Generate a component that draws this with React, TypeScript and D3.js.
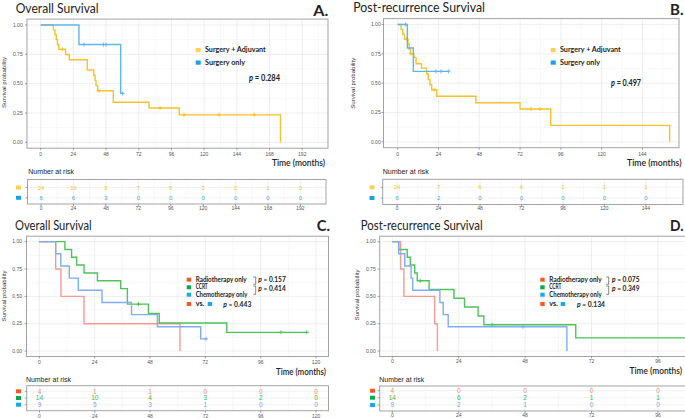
import React from 'react';
import * as d3 from 'd3';

// ---------------- DATA ----------------
const A_TICKS = [0, 24, 48, 72, 96, 120, 144, 168, 192];
const B_TICKS = [0, 24, 48, 72, 96, 120, 144];
const C_TICKS = [0, 24, 48, 72, 96, 120];
const D_TICKS = [0, 24, 48, 72, 96];
const Y_TICKS = [0, 0.25, 0.5, 0.75, 1];
const Y_TICK_LABELS = ['0.00', '0.25', '0.50', '0.75', '1.00'];

// Panel A: Overall survival, Surgery + Adjuvant vs Surgery only
const A_ADJ_TIME = [0, 9.3, 10.5, 11.5, 12.3, 13.3, 18.3, 21, 34.2, 38.9, 39.9, 40.6, 41.8, 53.3, 79.5, 101.7, 176];
const A_ADJ_SURV = [1, 0.958, 0.917, 0.875, 0.833, 0.792, 0.748, 0.704, 0.616, 0.572, 0.528, 0.484, 0.44, 0.342, 0.293, 0.234, 0];
const A_ADJ_CENSOR = [16.1, 42.8, 87.6, 105.2, 130.9, 156.8];
const A_ADJ_END = 176;
const A_ONLY_TIME = [0, 28.1, 58.7];
const A_ONLY_SURV = [1, 0.833, 0.417];
const A_ONLY_CENSOR = [31.8, 46, 47.9, 60.2];
const A_ONLY_END = 60.2;
const A_RISK_ADJ = [24, 16, 9, 7, 5, 3, 2, 1, 0];
const A_RISK_ONLY = [6, 6, 3, 0, 0, 0, 0, 0, 0];

// Panel B: Post-recurrence survival
const B_ADJ_TIME = [0, 2, 3, 4, 6, 6.8, 7.5, 9.5, 10.8, 14, 17, 18, 19, 20, 22.9, 46, 72, 90, 160];
const B_ADJ_SURV = [1, 0.958, 0.917, 0.875, 0.831, 0.788, 0.75, 0.72, 0.665, 0.628, 0.578, 0.53, 0.487, 0.444, 0.388, 0.333, 0.28, 0.14, 0];
const B_ADJ_CENSOR = [5.3, 7.8, 21.4, 78.4, 83.7];
const B_ADJ_END = 160;
const B_ONLY_TIME = [0, 5.7, 9.2];
const B_ONLY_SURV = [1, 0.8, 0.6];
const B_ONLY_CENSOR = [4.7, 22.5, 25.5, 29.8];
const B_ONLY_END = 29.8;
const B_RISK_ADJ = [24, 7, 6, 6, 1, 1, 1];
const B_RISK_ONLY = [6, 2, 0, 0, 0, 0, 0];

// Panel C: Overall survival by adjuvant type
const C_RT_TIME = [0, 7.1, 9.4, 19.4, 61];
const C_RT_SURV = [1, 0.75, 0.5, 0.25, 0];
const C_RT_CENSOR: number[] = [];
const C_RT_END = 61;
const C_CCRT_TIME = [0, 11.1, 14, 16.2, 19.4, 25.2, 35.3, 38.2, 47.3, 52, 81.3];
const C_CCRT_SURV = [1, 0.929, 0.857, 0.786, 0.714, 0.643, 0.571, 0.429, 0.343, 0.257, 0.171];
const C_CCRT_CENSOR = [43, 104.8, 116];
const C_CCRT_END = 116;
const C_CHEMO_TIME = [0, 7.1, 9.3, 13, 16.9, 27.2, 40, 51.2, 70];
const C_CHEMO_SURV = [1, 0.889, 0.778, 0.667, 0.556, 0.444, 0.333, 0.222, 0.111];
const C_CHEMO_CENSOR = [72.3];
const C_CHEMO_END = 72.3;
const C_RISK_RT = [4, 1, 1, 0, 0, 0];
const C_RISK_CCRT = [14, 10, 4, 3, 2, 0];
const C_RISK_CHEMO = [9, 5, 3, 1, 0, 0];

// Panel D: Post-recurrence survival by adjuvant type
const D_RT_TIME = [0, 3, 4.2, 15.3, 16.3];
const D_RT_SURV = [1, 0.75, 0.5, 0.25, 0];
const D_RT_CENSOR: number[] = [];
const D_RT_END = 16.3;
const D_CCRT_TIME = [0, 2.3, 5.4, 6.5, 8.1, 9, 13.3, 22.3, 26.1, 31, 33.1, 66.3];
const D_CCRT_SURV = [1, 0.929, 0.857, 0.786, 0.714, 0.643, 0.5625, 0.482, 0.402, 0.321, 0.241, 0.12];
const D_CCRT_CENSOR = [10.1, 36.1, 112];
const D_CCRT_END = 112;
const D_CHEMO_TIME = [0, 2.3, 4.5, 6.8, 7.4, 17.2, 18.4, 20.2, 63.1];
const D_CHEMO_SURV = [1, 0.889, 0.778, 0.667, 0.556, 0.444, 0.333, 0.222, 0];
const D_CHEMO_CENSOR = [47.2];
const D_CHEMO_END = 63.1;
const D_RISK_RT = [4, 0, 0, 0, 0];
const D_RISK_CCRT = [14, 6, 2, 1, 1];
const D_RISK_CHEMO = [9, 2, 1, 0, 0];

const LABELS_AB = ['Surgery + Adjuvant', 'Surgery only'];
const LABELS_CD = ['Radiotherapy only', 'CCRT', 'Chemotherapy only'];
const P_A = '0.284';
const P_B = '0.497';
const P_C = ['0.157', '0.414', '0.443'];
const P_D = ['0.075', '0.349', '0.134'];

// ---------------- STYLE ----------------
const FONT_CAL = "Lato, 'Open Sans', 'Noto Sans', sans-serif";
const FONT_AR = "'Liberation Sans', Arial, sans-serif";
const YEL_LINE = '#F5C12C';
const BLU_LINE = '#5DB6EB';
const YEL_SQ = '#FBD155';
const BLU_SQ = '#17A2E6';
const RED_LINE = '#F59A95';
const GRN_LINE = '#4CC45A';
const BLU2_LINE = '#80ACF4';
const RED_SQ = '#FF5722';
const GRN_SQ = '#0DA84B';
const BLU2_SQ = '#19A9F2';
const YEL_TXT = '#F3C537';
const BLU_TXT = '#4BA8E6';
const RED_TXT = '#F38A84';
const GRN_TXT = '#3DBB4C';
const BLU2_TXT = '#7EA6F2';

type Curve = { time: number[]; surv: number[]; end: number; censor: number[]; color: string };

function stepPoints(c: Curve): [number, number][] {
  const pts = c.time.map((t, i) => [t, c.surv[i]] as [number, number]);
  const last = c.time[c.time.length - 1];
  if (c.end > last) pts.push([c.end, c.surv[c.surv.length - 1]]);
  return pts;
}
function survAt(c: Curve, t: number) {
  let s = 1;
  for (let i = 0; i < c.time.length; i++) if (c.time[i] <= t) s = c.surv[i];
  return s;
}

type Cfg = {
  id: string;
  plot: { l: number; r: number; t: number; b: number };
  xDomain: [number, number];
  ticks: number[];
  curves: Curve[];
  title: { text: string; x: number; y: number; w: number; size: number };
  letter: { text: string; x: number; y: number; w: number };
  yTitle: { x: number; y: number };
  yTickRight: number;
  xTickY: number;
  timeLabel: { xEnd: number; y: number; w: number };
  riskTitle: { x: number; y: number; w: number };
  table: { l: number; r: number; t: number; b: number; rows: number[]; tickY: number; sqX: number; size: number };
  risk: number[][];
  riskColors: string[];
  sqColors: string[];
};

function Panel({ cfg }: { cfg: Cfg }) {
  const x = d3.scaleLinear().domain(cfg.xDomain).range([cfg.plot.l, cfg.plot.r]);
  const y = d3.scaleLinear().domain([-0.05, 1.05]).range([cfg.plot.b, cfg.plot.t]);
  const line = d3
    .line<[number, number]>()
    .x((d) => x(d[0]))
    .y((d) => y(d[1]))
    .curve(d3.curveStepAfter);
  const xt = d3.scaleLinear().domain(cfg.xDomain).range([cfg.table.l, cfg.table.r]);
  const minorX = d3.range(12, cfg.xDomain[1], 24);
  const majorX = d3.range(0, cfg.xDomain[1], 24);
  const minorY = [0.125, 0.375, 0.625, 0.875];
  const { plot, table } = cfg;
  const clipId = 'clip-' + cfg.id;
  return (
    <g>
      <defs>
        <clipPath id={clipId}>
          <rect x={plot.l} y={plot.t} width={plot.r - plot.l} height={plot.b - plot.t} />
        </clipPath>
      </defs>
      {/* titles */}
      <text x={cfg.title.x} y={cfg.title.y} fontFamily={FONT_CAL} fontSize={cfg.title.size} fill="#222"
        textLength={cfg.title.w} lengthAdjust="spacingAndGlyphs">{cfg.title.text}</text>
      <text x={cfg.letter.x} y={cfg.letter.y} fontFamily={FONT_CAL} fontWeight={700} fontSize={15} fill="#222"
        textLength={cfg.letter.w} lengthAdjust="spacingAndGlyphs">{cfg.letter.text}</text>
      {/* plot panel */}
      <rect x={plot.l} y={plot.t} width={plot.r - plot.l} height={plot.b - plot.t} fill="#fff" />
      <g clipPath={`url(#${clipId})`}>
        {minorX.map((v) => (
          <line key={'mx' + v} x1={x(v)} x2={x(v)} y1={plot.t} y2={plot.b} stroke="#F2F2F2" strokeWidth={0.6} />
        ))}
        {minorY.map((v) => (
          <line key={'my' + v} x1={plot.l} x2={plot.r} y1={y(v)} y2={y(v)} stroke="#F2F2F2" strokeWidth={0.6} />
        ))}
        {majorX.map((v) => (
          <line key={'Mx' + v} x1={x(v)} x2={x(v)} y1={plot.t} y2={plot.b} stroke="#E6E6E6" strokeWidth={0.7} />
        ))}
        {Y_TICKS.map((v) => (
          <line key={'My' + v} x1={plot.l} x2={plot.r} y1={y(v)} y2={y(v)} stroke="#E6E6E6" strokeWidth={0.7} />
        ))}
        {cfg.curves.map((c, i) => (
          <g key={'c' + i}>
            <path d={line(stepPoints(c)) || ''} fill="none" stroke={c.color} strokeWidth={1.4} />
            {c.censor.map((t, j) => {
              const cx = x(t);
              const cy = y(survAt(c, t));
              return (
                <g key={j} stroke={c.color} strokeWidth={1}>
                  <line x1={cx - 2} x2={cx + 2} y1={cy} y2={cy} />
                  <line x1={cx} x2={cx} y1={cy - 2} y2={cy + 2} />
                </g>
              );
            })}
          </g>
        ))}
      </g>
      <rect x={plot.l} y={plot.t} width={plot.r - plot.l} height={plot.b - plot.t} fill="none" stroke="#A3A3A3" strokeWidth={1} />
      {/* y axis */}
      {Y_TICKS.map((v, i) => (
        <g key={'yt' + v}>
          <line x1={plot.l - 2} x2={plot.l} y1={y(v)} y2={y(v)} stroke="#666" strokeWidth={0.6} />
          <text x={cfg.yTickRight} y={y(v) + 1.8} textAnchor="end" fontFamily={FONT_AR} fontSize={5} fill="#555">
            {Y_TICK_LABELS[i]}
          </text>
        </g>
      ))}
      <text transform={`translate(${cfg.yTitle.x},${cfg.yTitle.y}) rotate(-90)`} textAnchor="middle" fontFamily={FONT_AR}
        fontSize={6} fill="#333" textLength={51} lengthAdjust="spacingAndGlyphs">Survival probability</text>
      {/* x axis */}
      {cfg.ticks.map((v) => (
        <g key={'xt' + v}>
          <line x1={x(v)} x2={x(v)} y1={plot.b} y2={plot.b + 2} stroke="#666" strokeWidth={0.6} />
          <text x={x(v)} y={cfg.xTickY} textAnchor="middle" fontFamily={FONT_AR} fontSize={5} fill="#555">{v}</text>
        </g>
      ))}
      <text x={cfg.timeLabel.xEnd} y={cfg.timeLabel.y} textAnchor="end" fontFamily={FONT_CAL} fontWeight={600} fontSize={9}
        fill="#222" textLength={cfg.timeLabel.w} lengthAdjust="spacingAndGlyphs">Time (months)</text>
      {/* risk table */}
      <text x={cfg.riskTitle.x} y={cfg.riskTitle.y} fontFamily={FONT_AR} fontSize={7.3} fill="#222"
        textLength={cfg.riskTitle.w} lengthAdjust="spacingAndGlyphs">Number at risk</text>
      <rect x={table.l} y={table.t} width={table.r - table.l} height={table.b - table.t} fill="#fff" />
      <g>
        {minorX.filter((v) => xt(v) < table.r).map((v) => (
          <line key={'tmx' + v} x1={xt(v)} x2={xt(v)} y1={table.t} y2={table.b} stroke="#F2F2F2" strokeWidth={0.6} />
        ))}
        {majorX.filter((v) => xt(v) < table.r).map((v) => (
          <line key={'tMx' + v} x1={xt(v)} x2={xt(v)} y1={table.t} y2={table.b} stroke="#E8E8E8" strokeWidth={0.7} />
        ))}
        {table.rows.map((ry, i) => (
          <line key={'tr' + i} x1={table.l} x2={table.r} y1={ry} y2={ry} stroke="#EDEDED" strokeWidth={0.7} />
        ))}
      </g>
      <rect x={table.l} y={table.t} width={table.r - table.l} height={table.b - table.t} fill="none" stroke="#A3A3A3" strokeWidth={1} />
      {cfg.risk.map((row, i) => (
        <g key={'rk' + i}>
          <rect x={table.sqX} y={table.rows[i] - 2} width={5} height={4} fill={cfg.sqColors[i]} />
          <line x1={table.l - 2} x2={table.l} y1={table.rows[i]} y2={table.rows[i]} stroke="#666" strokeWidth={0.6} />
          {row.map((n, j) => (
            <text key={j} x={xt(cfg.ticks[j])} y={table.rows[i] + table.size * 0.36} textAnchor="middle"
              fontFamily={FONT_AR} fontSize={table.size} fill={cfg.riskColors[i]}>{n}</text>
          ))}
        </g>
      ))}
      {cfg.ticks.map((v) => (
        <g key={'tt' + v}>
          <line x1={xt(v)} x2={xt(v)} y1={table.b} y2={table.b + 2} stroke="#666" strokeWidth={0.6} />
          <text x={xt(v)} y={table.tickY} textAnchor="middle" fontFamily={FONT_AR} fontSize={5} fill="#555">{v}</text>
        </g>
      ))}
    </g>
  );
}

function LegendAB({ sqX, rows, widths, p, pos }: {
  sqX: number; rows: number[]; widths: number[]; p: string; pos: { x: number; y: number; w: number };
}) {
  const colors = [YEL_SQ, BLU_SQ];
  return (
    <g>
      {LABELS_AB.map((lab, i) => (
        <g key={i}>
          <rect x={sqX} y={rows[i]} width={5} height={4.2} fill={colors[i]} />
          <text x={sqX + 9.3} y={rows[i] + 4.4} fontFamily={FONT_CAL} fontWeight={700} fontSize={7.6} fill="#222"
            textLength={widths[i]} lengthAdjust="spacingAndGlyphs">{lab}</text>
        </g>
      ))}
      <text x={pos.x} y={pos.y} fontFamily={FONT_CAL} fontWeight={700} fontSize={8.6} fill="#222"
        textLength={pos.w} lengthAdjust="spacingAndGlyphs">
        <tspan fontStyle="italic">p</tspan> = {p}
      </text>
    </g>
  );
}

function LegendCD({ sqX, rows, widths, vsBlueX, pVsX, bracketX, pX, p }: {
  sqX: number; rows: number[]; widths: number[]; vsBlueX: number; pVsX: number; bracketX: number; pX: number; p: string[];
}) {
  const colors = [RED_SQ, GRN_SQ, BLU2_SQ];
  const tx = sqX + 9;
  const bracket = (y1: number, y2: number) =>
    `M${bracketX},${y1} h2.4 v${y2 - y1} h-2.4`;
  return (
    <g>
      {LABELS_CD.map((lab, i) => (
        <g key={i}>
          <rect x={sqX} y={rows[i]} width={4.4} height={4} fill={colors[i]} />
          <text x={tx} y={rows[i] + 4.1} fontFamily={FONT_CAL} fontWeight={700} fontSize={6.6} fill="#222"
            textLength={widths[i]} lengthAdjust="spacingAndGlyphs">{lab}</text>
        </g>
      ))}
      <rect x={sqX} y={rows[3]} width={4.4} height={4} fill={RED_SQ} />
      <text x={tx} y={rows[3] + 4.1} fontFamily={FONT_CAL} fontWeight={700} fontSize={6.6} fill="#222"
        textLength={8.6} lengthAdjust="spacingAndGlyphs">vs.</text>
      <rect x={vsBlueX} y={rows[3]} width={4.4} height={4} fill={BLU2_SQ} />
      <text x={pVsX} y={rows[3] + 4.5} fontFamily={FONT_CAL} fontWeight={700} fontSize={8} fill="#222"
        textLength={28} lengthAdjust="spacingAndGlyphs"><tspan fontStyle="italic">p</tspan> = {p[2]}</text>
      <path d={bracket(rows[0] - 0.7, rows[1] - 1)} fill="none" stroke="#555" strokeWidth={0.7} />
      <path d={bracket(rows[1] + 0.7, rows[2] + 1.6)} fill="none" stroke="#555" strokeWidth={0.7} />
      <text x={pX} y={rows[0] + 4.6} fontFamily={FONT_CAL} fontWeight={700} fontSize={8} fill="#222"
        textLength={27.5} lengthAdjust="spacingAndGlyphs"><tspan fontStyle="italic">p</tspan> = {p[0]}</text>
      <text x={pX} y={rows[1] + 6} fontFamily={FONT_CAL} fontWeight={700} fontSize={8} fill="#222"
        textLength={27.5} lengthAdjust="spacingAndGlyphs"><tspan fontStyle="italic">p</tspan> = {p[1]}</text>
    </g>
  );
}

const cfgA: Cfg = {
  id: 'A',
  plot: { l: 27, r: 328, t: 19.1, b: 148.2 },
  xDomain: [-10.05, 210.9],
  ticks: A_TICKS,
  curves: [
    { time: A_ADJ_TIME, surv: A_ADJ_SURV, end: A_ADJ_END, censor: A_ADJ_CENSOR, color: YEL_LINE },
    { time: A_ONLY_TIME, surv: A_ONLY_SURV, end: A_ONLY_END, censor: A_ONLY_CENSOR, color: BLU_LINE },
  ],
  title: { text: 'Overall Survival', x: 15.7, y: 12.5, w: 83, size: 13.5 },
  letter: { text: 'A.', x: 313.3, y: 15.5, w: 15 },
  yTitle: { x: 6, y: 82.5 },
  yTickRight: 22.7,
  xTickY: 155.8,
  timeLabel: { xEnd: 325, y: 165.5, w: 53 },
  riskTitle: { x: 28.3, y: 174, w: 45.7 },
  table: { l: 27.5, r: 326, t: 179.5, b: 204, rows: [187.5, 197.8], tickY: 210.3, sqX: 16, size: 6 },
  risk: [A_RISK_ADJ, A_RISK_ONLY],
  riskColors: [YEL_TXT, BLU_TXT],
  sqColors: [YEL_SQ, BLU_SQ],
};

const cfgB: Cfg = {
  id: 'B',
  plot: { l: 383.5, r: 679, t: 18.6, b: 147.7 },
  xDomain: [-8.35, 165.5],
  ticks: B_TICKS,
  curves: [
    { time: B_ADJ_TIME, surv: B_ADJ_SURV, end: B_ADJ_END, censor: B_ADJ_CENSOR, color: YEL_LINE },
    { time: B_ONLY_TIME, surv: B_ONLY_SURV, end: B_ONLY_END, censor: B_ONLY_CENSOR, color: BLU_LINE },
  ],
  title: { text: 'Post-recurrence Survival', x: 353.3, y: 12, w: 131.7, size: 13.5 },
  letter: { text: 'B.', x: 670, y: 15, w: 13.5 },
  yTitle: { x: 354.5, y: 83.3 },
  yTickRight: 380.7,
  xTickY: 155.8,
  timeLabel: { xEnd: 681.5, y: 166, w: 54.5 },
  riskTitle: { x: 382.7, y: 174, w: 46 },
  table: { l: 382.7, r: 683, t: 179.3, b: 204.5, rows: [187.3, 198], tickY: 210.3, sqX: 369.5, size: 6 },
  risk: [B_RISK_ADJ, B_RISK_ONLY],
  riskColors: [YEL_TXT, BLU_TXT],
  sqColors: [YEL_SQ, BLU_SQ],
};

const cfgC: Cfg = {
  id: 'C',
  plot: { l: 26.5, r: 328.5, t: 236.2, b: 356.5 },
  xDomain: [-5.55, 125.4],
  ticks: C_TICKS,
  curves: [
    { time: C_RT_TIME, surv: C_RT_SURV, end: C_RT_END, censor: C_RT_CENSOR, color: RED_LINE },
    { time: C_CCRT_TIME, surv: C_CCRT_SURV, end: C_CCRT_END, censor: C_CCRT_CENSOR, color: GRN_LINE },
    { time: C_CHEMO_TIME, surv: C_CHEMO_SURV, end: C_CHEMO_END, censor: C_CHEMO_CENSOR, color: BLU2_LINE },
  ],
  title: { text: 'Overall Survival', x: 15, y: 230, w: 76.7, size: 12.5 },
  letter: { text: 'C.', x: 316.7, y: 231, w: 13.3 },
  yTitle: { x: 6, y: 296 },
  yTickRight: 22,
  xTickY: 363.5,
  timeLabel: { xEnd: 326, y: 375, w: 50 },
  riskTitle: { x: 26, y: 381.7, w: 45 },
  table: { l: 26.7, r: 328.5, t: 385.7, b: 410.7, rows: [391.3, 398, 404.7], tickY: 417.5, sqX: 16, size: 6.5 },
  risk: [C_RISK_RT, C_RISK_CCRT, C_RISK_CHEMO],
  riskColors: [RED_TXT, GRN_TXT, BLU2_TXT],
  sqColors: [RED_SQ, GRN_SQ, BLU2_SQ],
};

const cfgD: Cfg = {
  id: 'D',
  plot: { l: 379.7, r: 700, t: 236.2, b: 356.5 },
  xDomain: [-4.55, 111.2],
  ticks: D_TICKS,
  curves: [
    { time: D_RT_TIME, surv: D_RT_SURV, end: D_RT_END, censor: D_RT_CENSOR, color: RED_LINE },
    { time: D_CCRT_TIME, surv: D_CCRT_SURV, end: D_CCRT_END, censor: D_CCRT_CENSOR, color: GRN_LINE },
    { time: D_CHEMO_TIME, surv: D_CHEMO_SURV, end: D_CHEMO_END, censor: D_CHEMO_CENSOR, color: BLU2_LINE },
  ],
  title: { text: 'Post-recurrence Survival', x: 360.7, y: 229.5, w: 122, size: 12.5 },
  letter: { text: 'D.', x: 670, y: 230.5, w: 13.5 },
  yTitle: { x: 359, y: 295 },
  yTickRight: 375.7,
  xTickY: 363,
  timeLabel: { xEnd: 682, y: 373.5, w: 52.5 },
  riskTitle: { x: 379.3, y: 382, w: 45 },
  table: { l: 379.7, r: 700, t: 386, b: 411, rows: [390.7, 397.7, 405], tickY: 417.3, sqX: 370, size: 6.5 },
  risk: [D_RISK_RT, D_RISK_CCRT, D_RISK_CHEMO],
  riskColors: [RED_TXT, GRN_TXT, BLU2_TXT],
  sqColors: [RED_SQ, GRN_SQ, BLU2_SQ],
};

export default function App() {
  return (
    <svg width={685} height={418} viewBox="0 0 685 418"
      style={{ position: 'absolute', left: 0, top: 0, background: '#fff' }}>
      <rect x={0} y={0} width={685} height={418} fill="#fff" />
      <Panel cfg={cfgA} />
      <Panel cfg={cfgB} />
      <Panel cfg={cfgC} />
      <Panel cfg={cfgD} />
      <LegendAB sqX={195.7} rows={[48, 60.5]} widths={[60.7, 40]} p={P_A} pos={{ x: 249, y: 80.5, w: 31 }} />
      <LegendAB sqX={550.7} rows={[48, 60.5]} widths={[60.7, 40]} p={P_B} pos={{ x: 611, y: 85.5, w: 30 }} />
      <LegendCD sqX={186.7} rows={[277.7, 285.3, 292.7, 302]} widths={[51, 12, 51.6]} vsBlueX={207.7}
        pVsX={223.3} bracketX={253.3} pX={258.3} p={P_C} />
      <LegendCD sqX={540.3} rows={[277.7, 285.3, 292.7, 302]} widths={[52.3, 12, 52.3]} vsBlueX={560.7}
        pVsX={577} bracketX={606.3} pX={612} p={P_D} />
    </svg>
  );
}
